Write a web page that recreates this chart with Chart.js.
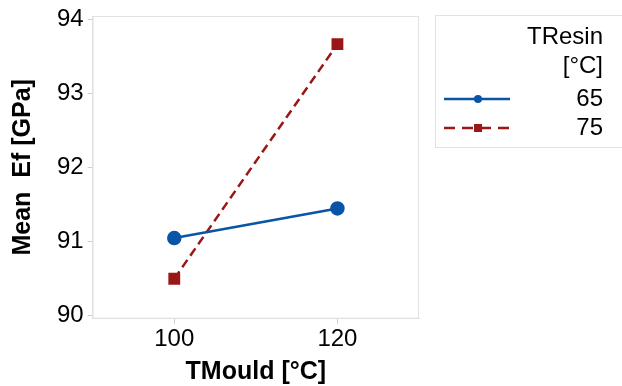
<!DOCTYPE html>
<html lang="en">
<head>
    <meta charset="UTF-8">
    <title>Mean Ef interaction plot</title>
    <script src="https://cdn.jsdelivr.net/npm/chart.js"></script>
    <style>
        body { margin: 0; background: white; }
        #wrap { width: 622px; height: 386px; }
    </style>
</head>
<body>
    <div id="wrap"><canvas id="efChart"></canvas></div>

    <script>
        const tMould = [100, 120];
        const ef65 = [91.05, 91.45];
        const ef75 = [90.5, 93.67];
        const yTicks = [90, 91, 92, 93, 94];
        const legendTitle = ["TResin", "[°C]"];
        const resinLabels = ["65", "75"];

        const font = "Arial, 'Liberation Sans', sans-serif";

        // box round the plot area
        const frame = {
            id: 'frame',
            beforeDatasetsDraw(chart) {
                const a = chart.chartArea, c = chart.ctx;
                c.save();
                c.strokeStyle = '#e2e2e2';
                c.lineWidth = 1;
                c.strokeRect(a.left + 0.5, a.top + 0.5, a.right - a.left - 1, a.bottom - a.top - 1);
                c.restore();
            }
        };

        // legend drawn by hand, right aligned text like the original
        const sideLegend = {
            id: 'sideLegend',
            afterDraw(chart) {
                const c = chart.ctx;
                c.save();
                c.strokeStyle = '#e2e2e2';
                c.lineWidth = 1;
                c.strokeRect(435.5, 15.5, 200, 132);
                c.fillStyle = '#000';
                c.font = "24px " + font;
                c.textAlign = 'right';
                c.textBaseline = 'middle';
                c.fillText(legendTitle[0], 603, 37);
                c.fillText(legendTitle[1], 603, 66);
                const rows = [99, 128];
                chart.data.datasets.forEach((ds, i) => {
                    const y = rows[i];
                    c.fillText(ds.label, 603, y);
                    c.strokeStyle = ds.borderColor;
                    c.lineWidth = 2.5;
                    c.setLineDash(ds.borderDash ? [11, 7] : []);
                    c.beginPath();
                    c.moveTo(444, y);
                    c.lineTo(510, y);
                    c.stroke();
                    c.setLineDash([]);
                    c.fillStyle = ds.borderColor;
                    if (ds.pointStyle === 'rect') {
                        c.fillRect(474, y - 4, 8, 8);
                    } else {
                        c.beginPath();
                        c.arc(478, y, 4, 0, Math.PI * 2);
                        c.fill();
                    }
                    c.fillStyle = '#000';
                });
                c.restore();
            }
        };

        new Chart(document.getElementById('efChart'), {
            type: 'line',
            data: {
                datasets: [
                    {
                        label: resinLabels[0],
                        data: tMould.map((t, i) => ({ x: t, y: ef65[i] })),
                        borderColor: '#0854a6',
                        backgroundColor: '#0854a6',
                        borderWidth: 2.5,
                        pointStyle: 'circle',
                        pointRadius: 6,
                        pointHoverRadius: 6
                    },
                    {
                        label: resinLabels[1],
                        data: tMould.map((t, i) => ({ x: t, y: ef75[i] })),
                        borderColor: '#9a1717',
                        backgroundColor: '#9a1717',
                        borderWidth: 2.5,
                        borderDash: [9, 5],
                        pointStyle: 'rect',
                        pointRadius: 6.6,
                        pointHoverRadius: 6.6
                    }
                ]
            },
            options: {
                responsive: true,
                maintainAspectRatio: false,
                animation: false,
                layout: { padding: { top: 2, right: 203, left: 8, bottom: 0 } },
                plugins: {
                    legend: { display: false },
                    tooltip: { enabled: false }
                },
                scales: {
                    x: {
                        type: 'linear',
                        min: 90,
                        max: 130,
                        afterBuildTicks: s => { s.ticks = tMould.map(v => ({ value: v })); },
                        ticks: { color: '#000', font: { size: 24, family: font }, padding: 1 },
                        grid: { drawOnChartArea: false, tickLength: 5, color: '#cfcfcf' },
                        border: { color: '#e2e2e2' },
                        title: {
                            display: true,
                            text: 'TMould [°C]',
                            color: '#000',
                            font: { size: 25, weight: 'bold', family: font, lineHeight: 1.1 },
                            padding: { top: 4, bottom: 0 }
                        }
                    },
                    y: {
                        min: 89.96,
                        max: 94.05,
                        afterBuildTicks: s => { s.ticks = yTicks.map(v => ({ value: v })); },
                        ticks: { color: '#000', font: { size: 24, family: font, lineHeight: 1.0 }, padding: 4 },
                        grid: { drawOnChartArea: false, tickLength: 5, color: '#cfcfcf' },
                        border: { color: '#e2e2e2' },
                        title: {
                            display: true,
                            text: 'Mean  Ef [GPa]',
                            color: '#000',
                            font: { size: 25, weight: 'bold', family: font },
                            padding: { top: 0, bottom: 15 }
                        }
                    }
                }
            },
            plugins: [frame, sideLegend]
        });
    </script>
</body>
</html>
